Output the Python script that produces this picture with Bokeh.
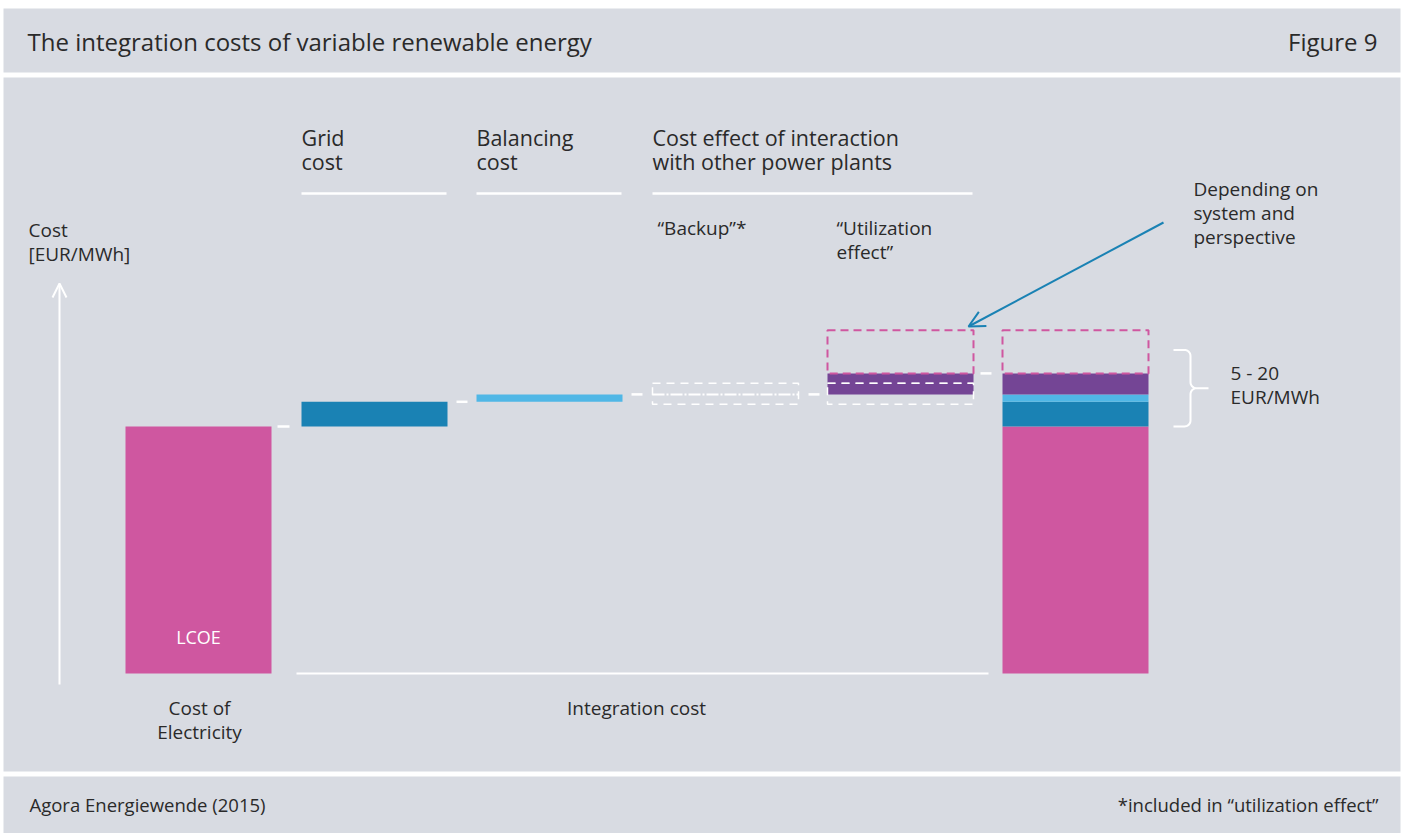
from bokeh.plotting import figure
from bokeh.models import Range1d, Arrow, OpenHead
from bokeh.core.properties import value
from bokeh.embed import file_html
from bokeh.resources import INLINE
import numpy as np

# ---------------- data (schematic cost units, EUR/MWh-like) ----------------
stages = ["Cost of Electricity", "Grid cost", "Balancing cost", "Backup", "Utilization effect", "Total"]
lcoe = 100.0
grid_cost = 10.0
balancing_cost = 3.0
backup_below = 4.0      # backup range around the balancing level
backup_above = 4.5
utilization_cost = 8.5
utilization_upper = 17.5  # "depending on system and perspective"
range_text = ["5 - 20", "EUR/MWh"]

title = "The integration costs of variable renewable energy"
figure_no = "Figure 9"
source_text = "Agora Energiewende (2015)"
footnote = "*included in \u201cutilization effect\u201d"

# ---------------- styling / layout ----------------
W, H = 1403, 833
BASE_PX = 673.0
K = 2.47  # px per cost unit
BG = "#d8dbe2"
PINK = "#cf57a0"
DBLUE = "#1a82b4"
LBLUE = "#50b7e6"
PURPLE = "#744595"
TXT = "#2a2a2a"
FONT = "Open Sans"

def Y(px):
    return (BASE_PX - px) / K

col_left = [125, 301, 476, 652, 827, 1002]
col_w = 146

p = figure(width=W, height=H, output_backend="svg", toolbar_location=None,
           x_range=Range1d(0, W), y_range=Range1d(Y(H), Y(0)),
           min_border=0, min_border_left=0, min_border_right=0,
           min_border_top=0, min_border_bottom=0)
p.xaxis.visible = False
p.yaxis.visible = False
p.grid.visible = False
p.outline_line_color = None
p.background_fill_color = "white"
p.border_fill_color = "white"

# panels
p.quad(left=[3, 3, 3], right=[1400, 1400, 1400],
       top=[Y(8), Y(77), Y(776)], bottom=[Y(72), Y(771), Y(840)],
       fill_color=BG, line_color=None)

# levels
l1 = lcoe
l2 = l1 + grid_cost
l3 = l2 + balancing_cost
l4 = l3 + utilization_cost
l5 = l4 + utilization_upper

def colx(i):
    return col_left[i], col_left[i] + col_w

# solid bars
bars = [
    (0, 0, l1, PINK),
    (1, l1, l2, DBLUE),
    (2, l2, l3, LBLUE),
    (4, l3, l4, PURPLE),
    (5, 0, l1, PINK),
    (5, l1, l2, DBLUE),
    (5, l2, l3, LBLUE),
    (5, l3, l4, PURPLE),
]
p.quad(left=[colx(b[0])[0] for b in bars], right=[colx(b[0])[1] for b in bars],
       bottom=[b[1] for b in bars], top=[b[2] for b in bars],
       fill_color=[b[3] for b in bars], line_color=None)

# backup range (dashed white) in backup column and utilization column
for i in (3, 4):
    a, b = colx(i)
    p.quad(left=[a], right=[b], bottom=[l3 - backup_below], top=[l3 + backup_above],
           fill_alpha=0, line_color="white", line_width=1.5, line_dash="8 6")
a, b = colx(3)
p.segment(x0=[a], x1=[b], y0=[l3], y1=[l3], line_color="white", line_width=2, line_dash="12 2 2 2")
a, b = colx(4)
p.segment(x0=[a], x1=[b], y0=[l3 + backup_above], y1=[l3 + backup_above],
          line_color="white", line_width=1.5, line_dash="8 6", line_alpha=0.7)

# upper dashed pink range
for i in (4, 5):
    a, b = colx(i)
    p.quad(left=[a], right=[b], bottom=[l4], top=[l5],
           fill_alpha=0, line_color=PINK, line_width=2, line_dash="8 5")

# connectors (white dashes between levels)
conn_x = [(277, 289), (456, 467), (631, 642), (808, 819), (980, 991)]
conn_y = [l1, l2, l3, l3, l4]
p.segment(x0=[c[0] for c in conn_x], x1=[c[1] for c in conn_x], y0=conn_y, y1=conn_y,
          line_color="white", line_width=2.5)

# baseline of integration costs
p.segment(x0=[296], x1=[988], y0=[0], y1=[0], line_color="white", line_width=2)

# header rules
p.segment(x0=[301, 476, 652], x1=[446, 621, 972], y0=[Y(193)] * 3, y1=[Y(193)] * 3,
          line_color="white", line_width=2.5)

# vertical cost arrow
p.add_layout(Arrow(end=OpenHead(line_color="white", line_width=2, size=14),
                   x_start=59, y_start=Y(684), x_end=59, y_end=Y(283),
                   line_color="white", line_width=2))

# pointer arrow
p.add_layout(Arrow(end=OpenHead(line_color=DBLUE, line_width=2, size=16),
                   x_start=1163, y_start=Y(222), x_end=968, y_end=Y(326),
                   line_color=DBLUE, line_width=2))

# curly bracket for the 5-20 range
def brace(x0, xv, xt, top, bot, r=6):
    mid = (top + bot) / 2
    pts = []
    t = np.linspace(0, np.pi / 2, 8)
    pts.append((x0, top))
    for a in t:
        pts.append((xv - r + r * np.sin(a), top + r - r * np.cos(a)))
    pts.append((xv, mid - r))
    for a in t:
        pts.append((xv + r - r * np.cos(a), mid - r + r * np.sin(a)))
    pts.append((xt, mid))
    for a in t[::-1]:
        pts.append((xv + r - r * np.cos(a), mid + r - r * np.sin(a)))
    pts.append((xv, bot - r))
    for a in t[::-1]:
        pts.append((xv - r + r * np.sin(a), bot - r + r * np.cos(a)))
    pts.append((x0, bot))
    return [q[0] for q in pts], [Y(q[1]) for q in pts]

bx, by = brace(1173, 1190, 1208, BASE_PX - (lcoe + 31) * K, BASE_PX - lcoe * K)
p.line(bx, by, line_color="white", line_width=2)

# texts
def txt(x, ypx, s, size, color=TXT, align="left"):
    p.text(x=[x], y=[Y(ypx)], text=[s], text_font=value(FONT), text_font_size=f"{size}px",
           text_color=color, text_align=align, text_baseline="middle")

txt(27, 41, title, 24)
txt(1377, 41, figure_no, 24, align="right")
txt(29, 804, source_text, 18.5)
txt(1378, 804, footnote, 18.5, align="right")

txt(301, 137, "Grid", 21.5)
txt(301, 161, "cost", 21.5)
txt(476, 137, "Balancing", 21.5)
txt(476, 161, "cost", 21.5)
txt(652, 137, "Cost effect of interaction", 21.5)
txt(652, 161, "with other power plants", 21.5)

S = 19
txt(657, 227, "\u201cBackup\u201d*", S)
txt(836, 227, "\u201cUtilization", S)
txt(836, 251, "effect\u201d", S)

txt(1193, 188, "Depending on", S)
txt(1193, 212, "system and", S)
txt(1193, 236, "perspective", S)

txt(28, 229, "Cost", S)
txt(28, 253, "[EUR/MWh]", S)

txt(1230, 372, range_text[0], S)
txt(1230, 396, range_text[1], S)

txt(198, 636, "LCOE", 18, color="white", align="center")
txt(199, 707, "Cost of", S, align="center")
txt(199, 731, "Electricity", S, align="center")
txt(636, 707, "Integration cost", S, align="center")

open("out.html", "w").write(file_html(p, INLINE))
